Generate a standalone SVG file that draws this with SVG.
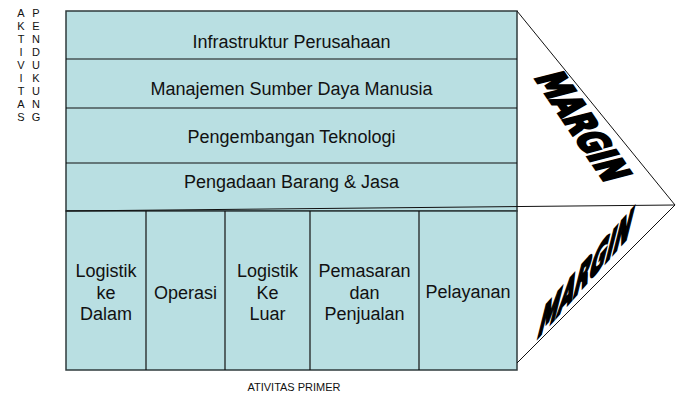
<svg xmlns="http://www.w3.org/2000/svg" width="676" height="400" viewBox="0 0 676 400">
  <style>
    .panel { fill: #b9dfe2; stroke: #2f3b3d; stroke-width: 1.5; }
    .divider { stroke: #111; stroke-width: 1.2; fill: none; }
    .edge { stroke: #111; stroke-width: 1; fill: none; }
    .label { font-family: "Liberation Sans", Arial, sans-serif; font-size: 18px; fill: #111; text-anchor: middle; }
    .small { font-family: "Liberation Sans", Arial, sans-serif; font-size: 11px; fill: #111; text-anchor: middle; }
    .margin { font-family: "DejaVu Sans", "Liberation Sans", sans-serif; font-size: 38px; font-weight: bold; fill: #000; stroke: #000; stroke-width: 3; stroke-linejoin: miter; }
  </style>

  <!-- side caption: support activities, spelled vertically in two columns -->
  <g id="caption-support">
    <text class="small"><tspan x="21" y="17">A</tspan><tspan x="21" y="30">K</tspan><tspan x="21" y="43">T</tspan><tspan x="21" y="56">I</tspan><tspan x="21" y="69">V</tspan><tspan x="21" y="82">I</tspan><tspan x="21" y="95">T</tspan><tspan x="21" y="108">A</tspan><tspan x="21" y="121">S</tspan></text>
    <text class="small"><tspan x="36" y="17">P</tspan><tspan x="36" y="30">E</tspan><tspan x="36" y="43">N</tspan><tspan x="36" y="56">D</tspan><tspan x="36" y="69">U</tspan><tspan x="36" y="82">K</tspan><tspan x="36" y="95">U</tspan><tspan x="36" y="108">N</tspan><tspan x="36" y="121">G</tspan></text>
  </g>

  <!-- support activities block -->
  <g id="support-activities">
    <rect class="panel" x="66" y="11" width="451" height="200"/>
  </g>
  <g id="infrastruktur">
    <text class="label" x="291.5" y="48">Infrastruktur Perusahaan</text>
  </g>
  <g id="sdm">
    <line class="divider" x1="66" y1="59" x2="517" y2="59"/>
    <text class="label" x="291.5" y="95">Manajemen Sumber Daya Manusia</text>
  </g>
  <g id="teknologi">
    <line class="divider" x1="66" y1="108" x2="517" y2="108"/>
    <text class="label" x="291.5" y="143">Pengembangan Teknologi</text>
  </g>
  <g id="pengadaan">
    <line class="divider" x1="66" y1="163" x2="517" y2="163"/>
    <text class="label" x="291.5" y="188">Pengadaan Barang &amp; Jasa</text>
  </g>

  <!-- primary activities block -->
  <g id="primary-activities">
    <rect class="panel" x="66" y="211" width="451" height="159"/>
  </g>
  <g id="logistik-masuk">
    <text class="label"><tspan x="106" y="277">Logistik</tspan><tspan x="106" y="298.5">ke</tspan><tspan x="106" y="320">Dalam</tspan></text>
  </g>
  <g id="operasi">
    <line class="divider" x1="146" y1="211" x2="146" y2="370"/>
    <text class="label" x="185.5" y="298.5">Operasi</text>
  </g>
  <g id="logistik-keluar">
    <line class="divider" x1="225" y1="211" x2="225" y2="370"/>
    <text class="label"><tspan x="267.5" y="277">Logistik</tspan><tspan x="267.5" y="298.5">Ke</tspan><tspan x="267.5" y="320">Luar</tspan></text>
  </g>
  <g id="pemasaran">
    <line class="divider" x1="310" y1="211" x2="310" y2="370"/>
    <text class="label"><tspan x="364.5" y="277">Pemasaran</tspan><tspan x="364.5" y="298.5">dan</tspan><tspan x="364.5" y="320">Penjualan</tspan></text>
  </g>
  <g id="pelayanan">
    <line class="divider" x1="419" y1="211" x2="419" y2="370"/>
    <text class="label" x="468" y="298">Pelayanan</text>
  </g>

  <!-- margin wedge outline -->
  <g id="connectors">
    <polyline class="edge" points="517,11 675,205 517,363"/>
    <line class="edge" x1="675" y1="205" x2="66" y2="211"/>
  </g>

  <!-- margin labels: heavy condensed lettering laid along each slope -->
  <g id="margin-top">
    <text class="margin" x="0" y="0" transform="matrix(0.41 0.61 -1.0 0.26 534 77)">MARGIN</text>
  </g>
  <g id="margin-bottom">
    <text class="margin" x="0" y="0" transform="matrix(0.53 -0.59 -0.30 1.2 536 340)">MARGIN</text>
  </g>

  <g id="caption-primary">
    <text class="small" x="294" y="391">ATIVITAS PRIMER</text>
  </g>
</svg>
